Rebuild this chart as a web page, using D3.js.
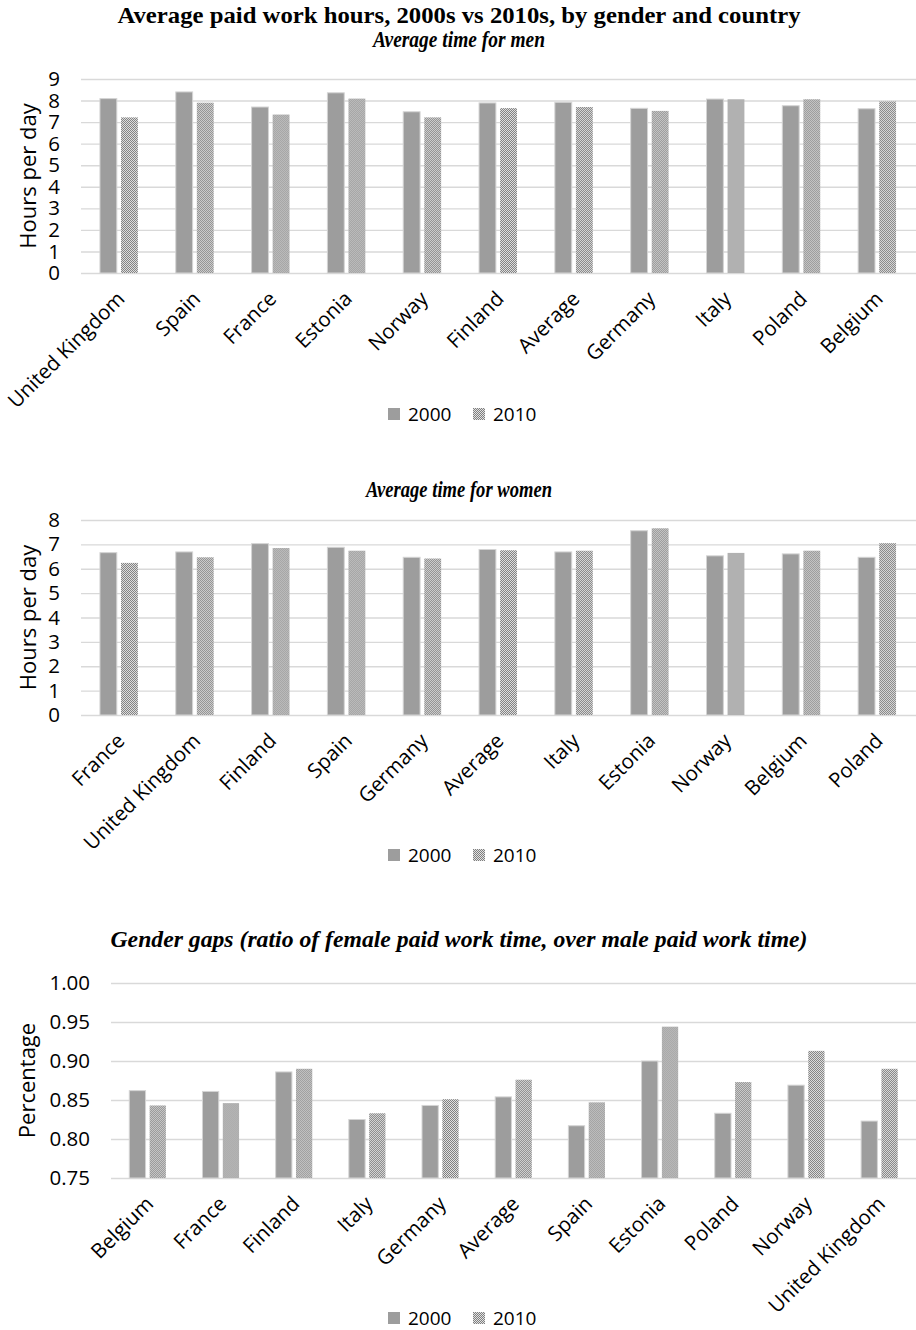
<!DOCTYPE html>
<html>
<head>
<meta charset="utf-8">
<script src="https://cdn.jsdelivr.net/npm/d3@7"></script>
<style>
  body { margin: 0; background: #fff; }
  svg { display: block; }
</style>
</head>
<body>
<svg id="chart" width="916" height="1330"></svg>
<script>
// Survey years shown in every panel
const seriesKeys = ["2000", "2010"];

// Men: average paid work, hours per day
const menCountries = ["United Kingdom", "Spain", "France", "Estonia", "Norway", "Finland",
                      "Average", "Germany", "Italy", "Poland", "Belgium"];
const men2000 = [8.09, 8.40, 7.70, 8.36, 7.48, 7.89, 7.92, 7.64, 8.07, 7.76, 7.62];
const men2010 = [7.22, 7.90, 7.35, 8.09, 7.22, 7.65, 7.70, 7.52, 8.06, 8.06, 7.96];
const menTicks = [0, 1, 2, 3, 4, 5, 6, 7, 8, 9];

// Women: average paid work, hours per day
const womenCountries = ["France", "United Kingdom", "Finland", "Spain", "Germany", "Average",
                        "Italy", "Estonia", "Norway", "Belgium", "Poland"];
const women2000 = [6.66, 6.69, 7.03, 6.88, 6.47, 6.79, 6.69, 7.56, 6.53, 6.61, 6.47];
const women2010 = [6.24, 6.47, 6.85, 6.74, 6.42, 6.76, 6.74, 7.66, 6.65, 6.74, 7.05];
const womenTicks = [0, 1, 2, 3, 4, 5, 6, 7, 8];

// Gender gap: female paid work time divided by male paid work time
const gapCountries = ["Belgium", "France", "Finland", "Italy", "Germany", "Average",
                      "Spain", "Estonia", "Poland", "Norway", "United Kingdom"];
const gap2000 = [0.862, 0.861, 0.886, 0.825, 0.843, 0.854, 0.817, 0.900, 0.833, 0.869, 0.823];
const gap2010 = [0.843, 0.846, 0.890, 0.833, 0.851, 0.876, 0.847, 0.944, 0.873, 0.913, 0.890];
const gapTicks = [0.75, 0.80, 0.85, 0.90, 0.95, 1.00];

const svg = d3.select("#chart");
const SANS = "'Open Sans', 'Noto Sans', sans-serif";
const SERIF = "'Liberation Serif', 'Times New Roman', serif";
const SOLID = "#9d9d9d";
const GRID = "#d9d9d9";

// Fine checkerboard fill for the 2010 bars
const defs = svg.append("defs");
const pat = defs.append("pattern")
  .attr("id", "checker")
  .attr("patternUnits", "userSpaceOnUse")
  .attr("width", 2).attr("height", 2);
pat.append("rect").attr("width", 2).attr("height", 2).attr("fill", "#e2e2e2");
pat.append("rect").attr("x", 0).attr("y", 0).attr("width", 1).attr("height", 1).attr("fill", "#7f7f7f");
pat.append("rect").attr("x", 1).attr("y", 1).attr("width", 1).attr("height", 1).attr("fill", "#7f7f7f");

const fills = { "2000": SOLID, "2010": "url(#checker)" };

// Headings
function heading(text, y, len, italic, size) {
  svg.append("text")
    .attr("x", 459).attr("y", y)
    .attr("text-anchor", "middle")
    .attr("font-family", SERIF)
    .attr("font-weight", "bold")
    .attr("font-style", italic ? "italic" : "normal")
    .attr("font-size", size)
    .attr("textLength", len)
    .attr("lengthAdjust", "spacingAndGlyphs")
    .attr("fill", "#000")
    .text(text);
}

heading("Average paid work hours, 2000s vs 2010s, by gender and country", 23, 683, false, 23);
heading("Average time for men", 47, 172, true, 23);
heading("Average time for women", 497, 186, true, 23);
heading("Gender gaps (ratio of female paid work time, over male paid work time)", 947, 697, true, 23);

function panel(cfg) {
  const { cats, a, b, domain, ticks, fmt, left, right, top, bottom, yTitle, legendY } = cfg;
  const g = svg.append("g");

  const x0 = d3.scaleBand().domain(cats).range([left, right]).paddingInner(0.5).paddingOuter(0.25);
  const x1 = d3.scaleBand().domain(seriesKeys).range([0, x0.bandwidth()]).paddingInner(0.2);
  const y = d3.scaleLinear().domain(domain).range([bottom, top]);

  // Horizontal gridlines (the lowest one doubles as the baseline)
  g.append("g")
    .attr("transform", `translate(${left},0)`)
    .call(d3.axisLeft(y).tickValues(ticks).tickSize(-(916 - left)).tickFormat(""))
    .call(s => s.select(".domain").remove())
    .call(s => s.selectAll("line").attr("stroke", GRID).attr("stroke-width", 1.4));

  // Y tick labels
  g.append("g")
    .attr("transform", `translate(${left},0)`)
    .call(d3.axisLeft(y).tickValues(ticks).tickSize(0).tickPadding(21).tickFormat(fmt))
    .call(s => s.select(".domain").remove())
    .call(s => s.selectAll("text")
      .attr("font-family", SANS).attr("font-size", 20.5).attr("fill", "#000"));

  // Y axis title
  g.append("text")
    .attr("transform", `translate(${cfg.titleX},${(top + bottom) / 2}) rotate(-90)`)
    .attr("text-anchor", "middle")
    .attr("dominant-baseline", "central")
    .attr("font-family", SANS).attr("font-size", 22).attr("fill", "#000")
    .text(yTitle);

  // Bars
  const rows = cats.map((c, i) => ({ cat: c, values: [
    { key: "2000", v: a[i] }, { key: "2010", v: b[i] }
  ] }));
  g.append("g").selectAll("g")
    .data(rows).join("g")
    .attr("transform", d => `translate(${x0(d.cat)},0)`)
    .selectAll("rect")
    .data(d => d.values).join("rect")
    .attr("x", d => x1(d.key))
    .attr("width", x1.bandwidth())
    .attr("y", d => y(d.v))
    .attr("height", d => y(domain[0]) - y(d.v))
    .attr("fill", d => fills[d.key])
    .attr("stroke", d => d.key === "2000" ? "#d4d4d4" : "none")
    .attr("stroke-width", 1);

  // Category labels, slanted
  g.append("g")
    .attr("transform", `translate(0,${bottom})`)
    .call(d3.axisBottom(x0).tickSize(0))
    .call(s => s.select(".domain").remove())
    .call(s => s.selectAll("text")
      .attr("x", 0).attr("y", 0).attr("dy", 0)
      .attr("transform", "translate(7,27) rotate(-45)")
      .attr("text-anchor", "end")
      .attr("font-family", SANS).attr("font-size", 20.5).attr("fill", "#000"));

  // Legend
  const lg = g.append("g").attr("transform", `translate(0,${legendY})`);
  const items = [{ key: "2000", x: 388 }, { key: "2010", x: 473 }];
  items.forEach(it => {
    lg.append("rect").attr("x", it.x).attr("y", -13).attr("width", 12).attr("height", 12)
      .attr("fill", fills[it.key]);
    lg.append("text").attr("x", it.x + 20).attr("y", 0)
      .attr("font-family", SANS).attr("font-size", 19).attr("fill", "#000")
      .text(it.key);
  });
}

panel({ cats: menCountries, a: men2000, b: men2010, domain: [0, 9], ticks: menTicks,
        fmt: d3.format("d"), left: 81, right: 915, top: 79, bottom: 273,
        yTitle: "Hours per day", titleX: 27, legendY: 421 });

panel({ cats: womenCountries, a: women2000, b: women2010, domain: [0, 8], ticks: womenTicks,
        fmt: d3.format("d"), left: 81, right: 915, top: 520, bottom: 715,
        yTitle: "Hours per day", titleX: 27, legendY: 862 });

panel({ cats: gapCountries, a: gap2000, b: gap2010, domain: [0.75, 1.0], ticks: gapTicks,
        fmt: d3.format(".2f"), left: 111, right: 916, top: 983, bottom: 1178,
        yTitle: "Percentage", titleX: 26, legendY: 1325 });
</script>
</body>
</html>
